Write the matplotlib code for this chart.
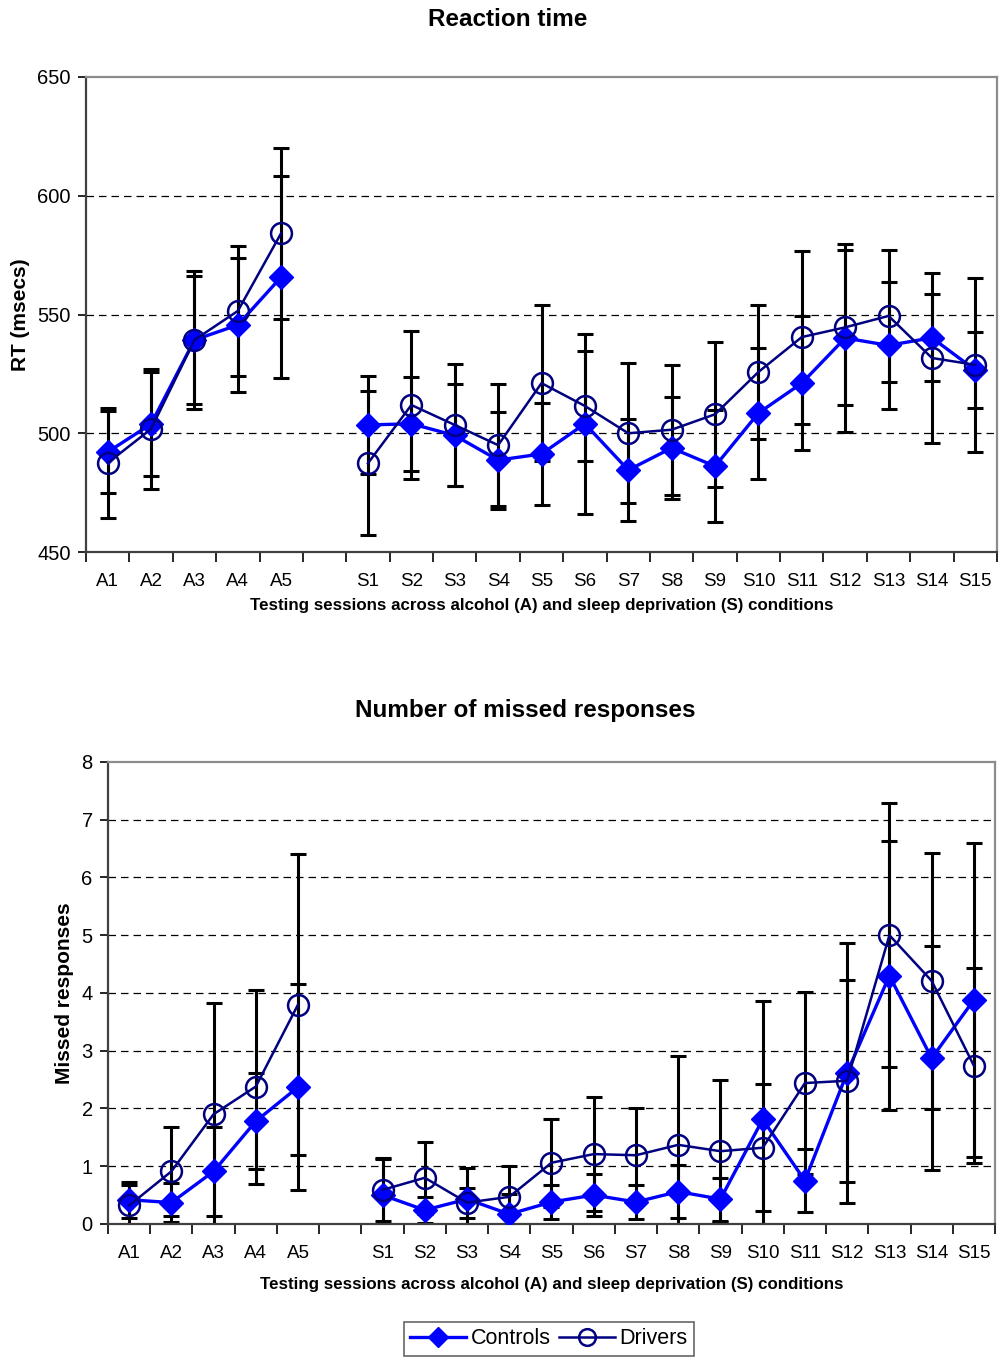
import numpy as np
import matplotlib
matplotlib.use("Agg")
import matplotlib.pyplot as plt
from matplotlib.lines import Line2D

plt.rcParams['font.family'] = ['Liberation Sans', 'DejaVu Sans']

# ===== Data =====
sessions = ['A1', 'A2', 'A3', 'A4', 'A5', '',
            'S1', 'S2', 'S3', 'S4', 'S5', 'S6', 'S7', 'S8', 'S9', 'S10',
            'S11', 'S12', 'S13', 'S14', 'S15']
nan = np.nan

# Reaction time (msecs)
rt_controls = [492.1, 503.9, 539.3, 545.6, 565.8, nan,
               503.5, 504.0, 499.1, 488.7, 491.3, 504.0, 484.5, 493.8, 486.1,
               508.5, 521.1, 540.1, 537.0, 540.2, 526.6]
rt_drivers = [487.5, 501.8, 539.3, 551.5, 584.3, nan,
              487.4, 511.9, 503.5, 495.0, 521.1, 511.5, 500.0, 501.5, 508.0,
              525.8, 540.5, 544.6, 549.4, 531.7, 528.8]
rt_controls_err = [17.3, 21.9, 26.9, 28.3, 42.4, nan,
                   20.5, 19.7, 21.5, 20.4, 21.3, 37.8, 21.4, 21.6, 23.6,
                   27.6, 28.1, 39.4, 26.7, 18.3, 16.0]
rt_drivers_err = [23.2, 25.4, 29.2, 27.5, 36.0, nan,
                  30.2, 31.2, 25.5, 25.6, 32.8, 23.2, 29.5, 27.4, 30.5,
                  28.3, 36.4, 32.6, 27.7, 35.8, 36.5]

# Missed responses
mr_controls = [0.42, 0.37, 0.91, 1.78, 2.37, nan,
               0.50, 0.24, 0.43, 0.17, 0.38, 0.50, 0.38, 0.56, 0.43,
               1.81, 0.75, 2.62, 4.30, 2.87, 3.88]
mr_drivers = [0.32, 0.91, 1.90, 2.38, 3.80, nan,
              0.59, 0.80, 0.37, 0.47, 1.06, 1.21, 1.19, 1.37, 1.26,
              1.32, 2.44, 2.48, 5.00, 4.21, 2.74]
mr_controls_err = [0.31, 0.34, 0.77, 0.83, 1.78, nan,
                   0.64, 0.23, 0.54, 0.35, 0.30, 0.36, 0.30, 0.46, 0.37,
                   2.05, 0.55, 2.25, 2.33, 1.94, 2.72]
mr_drivers_err = [0.36, 0.77, 1.93, 1.68, 2.60, nan,
                  0.54, 0.62, 0.26, 0.53, 0.76, 0.99, 0.81, 1.53, 1.23,
                  1.10, 1.58, 1.75, 2.29, 2.22, 1.69]

CONTROL_COLOR = '#0000FF'
DRIVER_COLOR = '#000080'
XLABEL = 'Testing sessions across alcohol (A) and sleep deprivation (S) conditions'


def draw_panel(ax, controls, drivers, c_err, d_err, ylim, ystep, ylabel, xpad):
    x = np.arange(len(sessions))
    ax.errorbar(x, controls, yerr=c_err, fmt='none', ecolor='black',
                elinewidth=2.2, capsize=6, capthick=2.2, zorder=2)
    ax.errorbar(x, drivers, yerr=d_err, fmt='none', ecolor='black',
                elinewidth=2.2, capsize=6, capthick=2.2, zorder=2)
    ax.plot(x, controls, color=CONTROL_COLOR, lw=2.4, marker='D',
            markersize=12, markerfacecolor=CONTROL_COLOR,
            markeredgecolor=CONTROL_COLOR, zorder=3)
    ax.plot(x, drivers, color=DRIVER_COLOR, lw=1.8, marker='o',
            markersize=15, markerfacecolor='none',
            markeredgecolor=DRIVER_COLOR, markeredgewidth=1.8, zorder=4)

    ax.set_xlim(-0.5, len(sessions) - 0.5)
    ax.set_ylim(*ylim)
    yt = np.arange(ylim[0], ylim[1] + ystep / 2, ystep)
    ax.set_yticks(yt)
    for v in yt[1:-1]:
        ax.axhline(v, color='black', lw=0.9, ls=(0, (6, 4)), zorder=1)

    ax.set_xticks(x)
    ax.set_xticklabels(sessions, fontsize=13.5)
    ax.set_xticks(np.arange(-0.5, len(sessions)), minor=True)
    ax.tick_params(axis='x', which='major', length=0, pad=15)
    ax.tick_params(axis='x', which='minor', length=7, width=1.2, direction='out')
    ax.tick_params(axis='y', length=6, width=1.2, direction='out',
                   labelsize=14.5, pad=5)

    for s in ['top', 'right']:
        ax.spines[s].set_color('#8c8c8c')
        ax.spines[s].set_linewidth(1.6)
    for s in ['left', 'bottom']:
        ax.spines[s].set_color('#404040')
        ax.spines[s].set_linewidth(1.6)

    ax.set_xlabel(XLABEL, fontsize=12.2, fontweight='bold', labelpad=xpad)
    ax.set_ylabel(ylabel, fontsize=15, fontweight='bold')


fig = plt.figure(figsize=(9.99, 13.58), dpi=100)

# ===== Reaction time =====
ax1 = fig.add_axes([0.0861, 0.5935, 0.9119, 0.3498])
draw_panel(ax1, rt_controls, rt_drivers, rt_controls_err, rt_drivers_err,
           (450, 650), 50, 'RT (msecs)', 6)
ax1.yaxis.set_label_coords(-0.061, 0.5)
fig.text(0.508, 0.986, 'Reaction time', ha='center', va='center',
         fontsize=17.5, fontweight='bold')

# ===== Missed responses =====
ax2 = fig.add_axes([0.1081, 0.0987, 0.8879, 0.3402])
draw_panel(ax2, mr_controls, mr_drivers, mr_controls_err, mr_drivers_err,
           (0, 8), 1, 'Missed responses', 11)
ax2.yaxis.set_label_coords(-0.038, 0.5)
fig.text(0.526, 1 - 710 / 1358, 'Number of missed responses', ha='center',
         va='center', fontsize=17.5, fontweight='bold')

# ===== Legend =====
handles = [
    Line2D([], [], color=CONTROL_COLOR, lw=2.4, marker='D', markersize=10,
           markerfacecolor=CONTROL_COLOR, markeredgecolor=CONTROL_COLOR),
    Line2D([], [], color=DRIVER_COLOR, lw=1.8, marker='o', markersize=12,
           markerfacecolor='none', markeredgecolor=DRIVER_COLOR,
           markeredgewidth=1.8),
]
leg = fig.legend(handles, ['Controls', 'Drivers'], loc='center',
                 bbox_to_anchor=(549 / 999, 1 - 1339 / 1358), ncol=2,
                 fontsize=15.5, frameon=True, fancybox=False, handlelength=2.6,
                 handletextpad=0.2, columnspacing=0.4, borderpad=0.3,
                 borderaxespad=0)
leg.get_frame().set_edgecolor('#404040')
leg.get_frame().set_linewidth(1.2)

fig.savefig('out.png', dpi=100)
